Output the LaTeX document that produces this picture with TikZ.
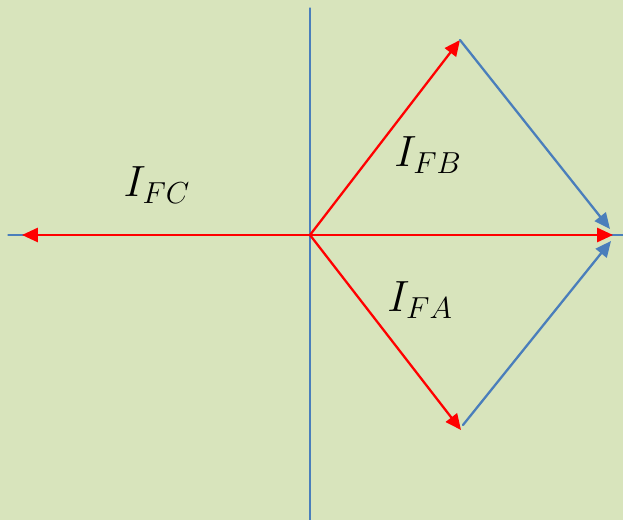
\documentclass[tikz,border=0pt]{standalone}
\usetikzlibrary{arrows.meta,positioning}
\definecolor{bggreen}{RGB}{216,228,188}
\definecolor{axisblue}{RGB}{74,126,187}
\tikzset{
  axisline/.style={draw=axisblue,line width=0.7pt},
  phasor/.style={draw=red,line width=1.3pt,-{Triangle[length=9pt,width=8pt]}},
  sumline/.style={draw=axisblue,line width=1.3pt,-{Triangle[length=9pt,width=8pt]}},
  lbl/.style={inner sep=0pt,font=\fontsize{27}{33}\selectfont},
  every picture/.style={line cap=round,line join=round}
}
\begin{document}
\begin{tikzpicture}[x=0.02cm,y=-0.02cm]
  \fill[bggreen] (0,0) rectangle (623,520);
  \useasboundingbox (0,0) rectangle (623,520);
  \coordinate (o) at (310,235);
  \coordinate (axl) at (8,235);
  \coordinate (axr) at (623,235);
  \coordinate (axt) at (310,8);
  \coordinate (axb) at (310,520);
  \coordinate (fb) at (460,40);
  \coordinate (fa) at (461,430);
  \coordinate (fc) at (22,235);
  \coordinate (sum) at (613,235);
  \coordinate (sumt) at (610,229);
  \coordinate (sumb) at (611,241);
  \coordinate (fas) at (463,425);
  \draw[axisline] (axl)--(axr) (axt)--(axb);
  \draw[phasor] (o)--(fc);
  \draw[phasor] (o)--(sum);
  \draw[phasor] (o)--(fb);
  \draw[phasor] (o)--(fa);
  \draw[sumline] (fb)--(sumt);
  \draw[sumline] (fas)--(sumb);
  \node[lbl] (lfc) at (157,185) {$I_{FC}$};
  \node[lbl] (lfb) at (428,155) {$I_{FB}$};
  \node[lbl] (lfa) at (420,300) {$I_{FA}$};
\end{tikzpicture}
\end{document}
